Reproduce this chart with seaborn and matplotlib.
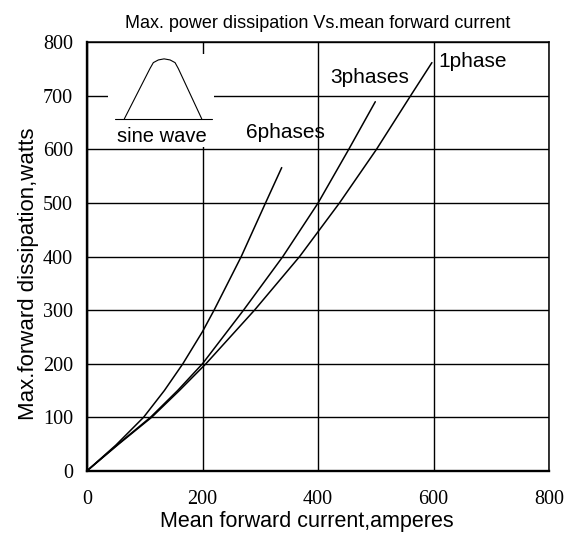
import numpy as np
import pandas as pd
import matplotlib
matplotlib.use("Agg")
import matplotlib.pyplot as plt
import seaborn as sns
from matplotlib.patches import Rectangle
from matplotlib import font_manager

# values
current_1phase = [0, 55, 112, 160, 206, 290, 368, 437, 501, 560, 597]
power_1phase = [0, 50, 100, 150, 200, 300, 400, 500, 600, 700, 762]

current_3phases = [0, 54, 110, 157, 200, 271, 339, 400, 453, 499]
power_3phases = [0, 50, 100, 150, 200, 300, 400, 500, 600, 689]

current_6phases = [0, 50, 98, 134, 166, 200, 220, 267, 309, 337]
power_6phases = [0, 48, 100, 150, 200, 260, 300, 400, 500, 566]

curve_labels = ["1phase", "3phases", "6phases"]
label_x = [668, 490, 343]
label_y = [764, 735, 632]

# little sine-wave icon in the top-left corner
icon_x = [64.6, 109, 114.8, 123.5, 133.4, 143.8, 152.4, 158, 198.6]
icon_y = [657, 751, 762, 767, 769, 767, 762, 751, 657]
icon_base_x = [48.5, 216]
icon_base_y = [657, 657]

x_ticks = [0, 200, 400, 600, 800]
y_ticks = [0, 100, 200, 300, 400, 500, 600, 700, 800]

df = pd.concat([
    pd.DataFrame({"current": current_1phase, "power": power_1phase, "curve": "1phase"}),
    pd.DataFrame({"current": current_3phases, "power": power_3phases, "curve": "3phases"}),
    pd.DataFrame({"current": current_6phases, "power": power_6phases, "curve": "6phases"}),
])

sns.set_theme(style="white")
installed = {f.name for f in font_manager.fontManager.ttflist}
narrow = "Liberation Sans Narrow" if "Liberation Sans Narrow" in installed else "Liberation Sans"
plt.rcParams["font.family"] = ["Liberation Sans", "DejaVu Sans"]
plt.rcParams["text.color"] = "black"
plt.rcParams["axes.labelcolor"] = "black"
plt.rcParams["xtick.color"] = "black"
plt.rcParams["ytick.color"] = "black"

fig = plt.figure(figsize=(5.65, 5.35), dpi=100)
ax = fig.add_axes([0.154, 0.120, 0.818, 0.801])

sns.lineplot(data=df, x="current", y="power", units="curve", estimator=None,
             sort=False, color="black", linewidth=1.1, ax=ax, zorder=3)

ax.set_xlim(0, 800)
ax.set_ylim(0, 800)
ax.set_xticks(x_ticks)
ax.set_yticks(y_ticks)
ax.set_axisbelow(True)
ax.grid(True, color="black", linewidth=1.0)

# white patch behind the icon breaks the grid lines
ax.add_patch(Rectangle((36, 605), 183, 174, facecolor="white", edgecolor="none", zorder=1.5))
ax.plot(icon_x, icon_y, color="black", linewidth=0.8, zorder=3)
ax.plot(icon_base_x, icon_base_y, color="black", linewidth=0.8, zorder=3)
ax.text(130, 624, "sine wave", ha="center", va="center", fontsize=14.5, zorder=4)

for name, tx, ty in zip(curve_labels, label_x, label_y):
    ax.text(tx, ty, name, ha="center", va="center", fontsize=15, zorder=4)

for side in ["left", "bottom"]:
    ax.spines[side].set_linewidth(1.7)
for side in ["top", "right"]:
    ax.spines[side].set_linewidth(1.1)
for s in ax.spines.values():
    s.set_color("black")

ax.tick_params(length=0, labelsize=14.5)
ax.tick_params(axis="y", pad=10)
ax.tick_params(axis="x", pad=14)
for lab in ax.get_xticklabels() + ax.get_yticklabels():
    lab.set_fontfamily(["Liberation Serif", "DejaVu Serif"])

ax.set_xlabel("Mean forward current,amperes", fontsize=15.5, labelpad=1, x=0.476)
ax.set_ylabel("Max.forward dissipation,watts", fontsize=16, labelpad=3, y=0.46)
ax.set_title("Max. power dissipation Vs.mean forward current", fontsize=13,
             family=[narrow, "DejaVu Sans"], pad=10)

fig.savefig("out.png", dpi=100)
